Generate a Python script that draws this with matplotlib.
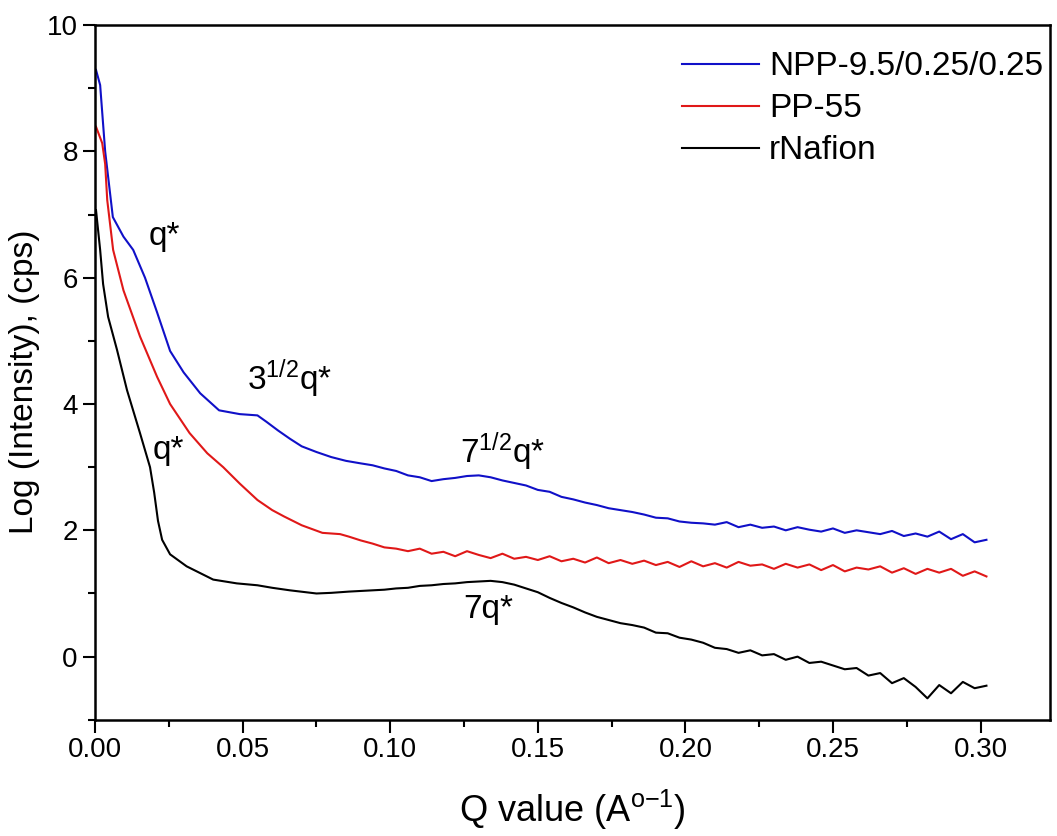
import matplotlib
matplotlib.use("Agg")
import matplotlib.pyplot as plt
from matplotlib.ticker import MultipleLocator

# SAXS curves
q_tail = [0.090, 0.094, 0.098, 0.102, 0.106, 0.110, 0.114, 0.118, 0.122, 0.126,
          0.130, 0.134, 0.138, 0.142, 0.146, 0.150, 0.154, 0.158, 0.162, 0.166,
          0.170, 0.174, 0.178, 0.182, 0.186, 0.190, 0.194, 0.198, 0.202, 0.206,
          0.210, 0.214, 0.218, 0.222, 0.226, 0.230, 0.234, 0.238, 0.242, 0.246,
          0.250, 0.254, 0.258, 0.262, 0.266, 0.270, 0.274, 0.278, 0.282, 0.286,
          0.290, 0.294, 0.298, 0.302]

q_npp_head = [0.0003, 0.0017, 0.0034, 0.006, 0.0096, 0.0129, 0.0169, 0.021,
              0.0254, 0.030, 0.0356, 0.042, 0.049, 0.055, 0.058, 0.062, 0.066,
              0.070, 0.075, 0.080, 0.085]
npp_head = [9.29, 9.05, 8.00, 6.96, 6.65, 6.44, 6.00, 5.45,
            4.84, 4.50, 4.17, 3.90, 3.84, 3.82, 3.72, 3.58, 3.45,
            3.33, 3.24, 3.16, 3.10]
npp_tail = [3.06, 3.03, 2.98, 2.94, 2.87, 2.84, 2.78, 2.81, 2.83, 2.86,
            2.87, 2.84, 2.79, 2.75, 2.71, 2.64, 2.61, 2.53, 2.49, 2.44,
            2.40, 2.35, 2.32, 2.29, 2.25, 2.20, 2.19, 2.14, 2.12, 2.11,
            2.09, 2.13, 2.05, 2.09, 2.04, 2.06, 2.00, 2.05, 2.01, 1.98,
            2.03, 1.96, 2.00, 1.97, 1.94, 1.99, 1.91, 1.95, 1.90, 1.98,
            1.86, 1.94, 1.81, 1.85]

q_pp_head = [0.0003, 0.0024, 0.0034, 0.0041, 0.0061, 0.0096, 0.0152, 0.021,
             0.0254, 0.032, 0.038, 0.0434, 0.049, 0.055, 0.060, 0.064, 0.070,
             0.077, 0.083, 0.086]
pp_head = [8.39, 8.13, 7.80, 7.23, 6.44, 5.80, 5.07, 4.43,
           4.00, 3.54, 3.22, 3.00, 2.74, 2.48, 2.32, 2.22, 2.08,
           1.96, 1.94, 1.90]
pp_tail = [1.84, 1.79, 1.73, 1.71, 1.67, 1.71, 1.63, 1.66, 1.59, 1.67,
           1.61, 1.56, 1.63, 1.55, 1.58, 1.53, 1.59, 1.51, 1.55, 1.49,
           1.57, 1.48, 1.53, 1.47, 1.52, 1.45, 1.50, 1.42, 1.51, 1.43,
           1.48, 1.41, 1.50, 1.44, 1.46, 1.39, 1.47, 1.41, 1.46, 1.37,
           1.45, 1.35, 1.41, 1.38, 1.43, 1.33, 1.40, 1.31, 1.39, 1.33,
           1.39, 1.28, 1.35, 1.27]

q_rn_head = [0.0003, 0.0017, 0.0027, 0.0044, 0.0074, 0.0108, 0.0152, 0.0186,
             0.0200, 0.0213, 0.0227, 0.0254, 0.031, 0.040, 0.048, 0.055, 0.060,
             0.066, 0.075, 0.080, 0.086]
rn_head = [7.07, 6.44, 5.90, 5.38, 4.86, 4.22, 3.54, 3.00,
           2.60, 2.15, 1.85, 1.62, 1.43, 1.22, 1.16, 1.13, 1.09,
           1.05, 1.00, 1.01, 1.03]
rn_tail = [1.04, 1.05, 1.06, 1.08, 1.09, 1.12, 1.13, 1.15, 1.16, 1.18,
           1.19, 1.20, 1.18, 1.14, 1.08, 1.02, 0.93, 0.85, 0.78, 0.70,
           0.63, 0.58, 0.53, 0.50, 0.46, 0.38, 0.37, 0.30, 0.27, 0.22,
           0.14, 0.12, 0.06, 0.10, 0.02, 0.04, -0.05, 0.00, -0.10, -0.08,
           -0.14, -0.20, -0.18, -0.30, -0.26, -0.42, -0.34, -0.48, -0.66, -0.45,
           -0.58, -0.40, -0.50, -0.46]

labels = ["NPP-9.5/0.25/0.25", "PP-55", "rNafion"]
colors = ["#1010c8", "#e01818", "black"]

plt.rcParams['font.family'] = ['Liberation Sans', 'DejaVu Sans']
plt.rcParams['mathtext.default'] = 'regular'

fig = plt.figure(figsize=(10.57, 8.36), dpi=100)
ax = fig.add_axes([0.090, 0.139, 0.903, 0.831])

series = [(q_npp_head + q_tail, npp_head + npp_tail),
          (q_pp_head + q_tail, pp_head + pp_tail),
          (q_rn_head + q_tail, rn_head + rn_tail)]
for (q, y), lab, c in zip(series, labels, colors):
    ax.plot(q, y, color=c, lw=1.5, label=lab)

ax.set_xlim(0, 0.3234)
ax.set_ylim(-1, 10)
ax.xaxis.set_major_locator(MultipleLocator(0.05))
ax.xaxis.set_minor_locator(MultipleLocator(0.025))
ax.yaxis.set_major_locator(MultipleLocator(2))
ax.yaxis.set_minor_locator(MultipleLocator(1))
ax.xaxis.set_major_formatter(plt.FuncFormatter(lambda v, p: f"{v:.2f}"))
ax.tick_params(which='both', direction='out', width=1.5, top=False, right=False, labelsize=20)
ax.tick_params(which='major', length=9)
ax.tick_params(which='minor', length=5)
for s in ax.spines.values():
    s.set_linewidth(1.8)

ax.set_xlabel(r'Q value (A$^{o{-}1}$)', fontsize=26, labelpad=18)
ax.set_ylabel('Log (Intensity), (cps)', fontsize=24, labelpad=5)
ax.yaxis.set_label_coords(-0.058, 0.487)

fs = 24
ax.text(0.018, 6.65, 'q*', fontsize=fs, va='center')
ax.text(0.0515, 4.41, '3$^{1/2}$q*', fontsize=fs, va='center')
ax.text(0.0196, 3.27, 'q*', fontsize=fs, va='center')
ax.text(0.1236, 3.25, '7$^{1/2}$q*', fontsize=fs, va='center')
ax.text(0.1246, 0.74, '7q*', fontsize=fs, va='center')

ax.legend(loc='upper right', bbox_to_anchor=(1.0, 0.972), borderaxespad=0, frameon=False,
          fontsize=24, handlelength=2.3, handletextpad=0.3, labelspacing=0.33, borderpad=0.2)

fig.savefig('out.png', dpi=100)
